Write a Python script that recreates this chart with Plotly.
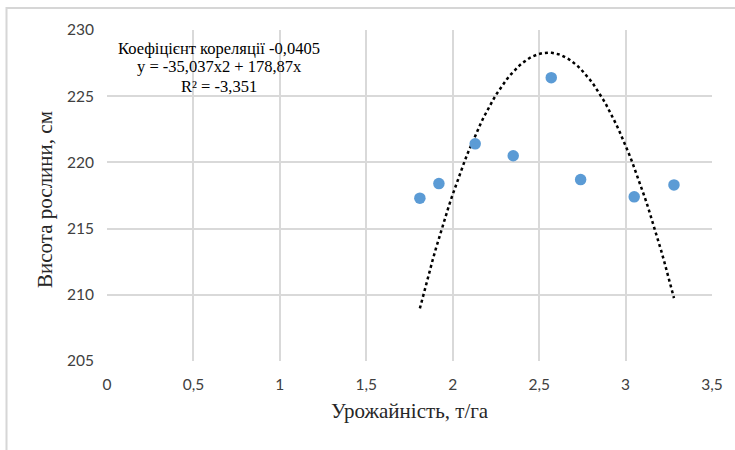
import plotly.graph_objects as go

# Data
yield_t_ha = [1.81, 1.92, 2.13, 2.35, 2.57, 2.74, 3.05, 3.28]
height_cm = [217.3, 218.4, 221.4, 220.5, 226.4, 218.7, 217.4, 218.3]

# Polynomial trendline coefficients shown in the chart (y = a*x^2 + b*x)
trend_a = -35.037
trend_b = 178.87
trend_x_start = 1.81
trend_x_end = 3.28

x_ticks = [0, 0.5, 1, 1.5, 2, 2.5, 3, 3.5]
x_tick_labels = ["0", "0,5", "1", "1,5", "2", "2,5", "3", "3,5"]
y_ticks = [205, 210, 215, 220, 225, 230]
y_tick_labels = ["205", "210", "215", "220", "225", "230"]

annotation_lines = ["Коефіцієнт кореляції -0,0405", "y = -35,037x2 + 178,87x", "R² = -3,351"]

n = 80
tx = [trend_x_start + (trend_x_end - trend_x_start) * i / (n - 1) for i in range(n)]
ty = [trend_a * v * v + trend_b * v for v in tx]

fig = go.Figure()
fig.add_trace(go.Scatter(x=tx, y=ty, mode="lines",
                         line=dict(color="black", width=2.5, dash="dot"),
                         hoverinfo="skip", showlegend=False))
fig.add_trace(go.Scatter(x=yield_t_ha, y=height_cm, mode="markers",
                         marker=dict(color="#5b9bd5", size=11.5),
                         showlegend=False))

W, H = 735, 450
PL, PR, PT, PB = 107, 712, 30, 361  # plot area in page pixels
ml, mr, mt, mb = PL, W - PR, PT, H - PB
pw, ph = PR - PL, PB - PT

def px(xp):
    return (xp - PL) / pw

def py(yp):
    return (PB - yp) / ph

grid = "#d9d9d9"
tickfont = dict(family="Lato, Open Sans, sans-serif", size=15.5, color="#404040")
serif = "Liberation Serif, Times New Roman, serif"

annots = []
for i, line in enumerate(annotation_lines):
    annots.append(dict(text=line, xref="paper", yref="paper",
                       x=px(219), y=py(48 + 19 * i), xanchor="center", yanchor="middle",
                       showarrow=False, font=dict(family=serif, size=16.5, color="black")))
annots.append(dict(text="Урожайність, т/га", xref="paper", yref="paper",
                   x=px(410), y=py(411), xanchor="center", yanchor="middle",
                   showarrow=False, font=dict(family=serif, size=21, color="#262626")))
annots.append(dict(text="Висота рослини, см", xref="paper", yref="paper",
                   x=px(45), y=py(200), xanchor="center", yanchor="middle", textangle=-90,
                   showarrow=False, font=dict(family=serif, size=21, color="#262626")))

fig.update_layout(
    width=W, height=H,
    margin=dict(l=ml, r=mr, t=mt, b=mb, pad=0),
    paper_bgcolor="white", plot_bgcolor="white",
    xaxis=dict(range=[0, 3.5], tickvals=x_ticks, ticktext=x_tick_labels,
               showgrid=True, gridcolor=grid, gridwidth=1.5, zeroline=False,
               showline=False, ticks="", tickfont=tickfont, ticklabelstandoff=12),
    yaxis=dict(range=[205, 230], tickvals=y_ticks, ticktext=y_tick_labels,
               showgrid=True, gridcolor=grid, gridwidth=1.5, zeroline=False,
               showline=False, ticks="", tickfont=tickfont, ticklabelstandoff=12),
    annotations=annots,
    shapes=[
        dict(type="rect", xref="paper", yref="paper", layer="above",
             x0=px(6), x1=px(735), y0=py(9), y1=py(7),
             fillcolor="#d6d6d6", line=dict(width=0)),
        dict(type="rect", xref="paper", yref="paper", layer="above",
             x0=px(5.5), x1=px(7.5), y0=py(450), y1=py(7),
             fillcolor="#d6d6d6", line=dict(width=0)),
    ],
)

fig.write_html("out.html", config={"displayModeBar": False},
               post_script="document.body.style.margin='0';document.body.style.overflow='hidden';")
